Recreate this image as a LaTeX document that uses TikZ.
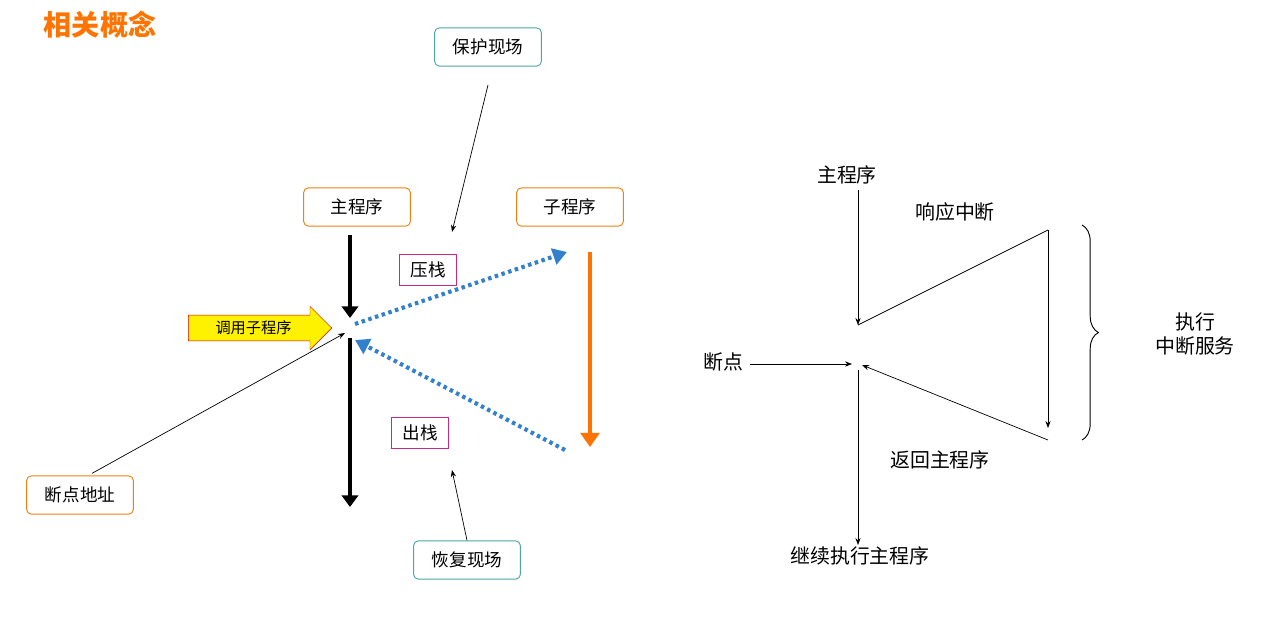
\documentclass[tikz,border=0pt]{standalone}
\usepackage{fontspec}
\setmainfont{Noto Sans CJK SC}
\usetikzlibrary{arrows.meta,shapes.arrows,decorations.pathreplacing}
\begin{document}
\begin{tikzpicture}[x=0.03cm,y=-0.03cm,
 box/.style={draw=#1,rounded corners=4pt,minimum width=3.2cm,minimum height=1.15cm,font=\fontsize{15}{17}\selectfont,fill=white,line width=0.8pt},
 sbox/.style={draw=magenta!80!black,minimum width=1.7cm,minimum height=0.95cm,font=\fontsize{15}{17}\selectfont,line width=0.8pt},
 thick arrow/.style={line width=4pt,-{Triangle[length=10pt,width=14pt]}},
 dots/.style={draw=blue!50!cyan!60!gray,line width=3.5pt,dash pattern=on 3pt off 3pt,-{Triangle[length=12pt,width=14pt]}},
 thin/.style={-{Stealth[length=6pt]},line width=0.6pt},
 rt/.style={font=\fontsize{17}{20}\selectfont}]
\useasboundingbox (0,0) rectangle (1264,616);
\node[text=orange!90!red,font=\fontsize{24}{26}\selectfont\bfseries] (title) at (100,25) {相关概念};
\node[box=teal!70] (bh) at (488,47) {保护现场};
\node[box=orange!70!brown] (zc) at (357,207) {主程序};
\node[box=orange!70!brown] (zic) at (570,207) {子程序};
\node[sbox] (yz) at (428,270) {压栈};
\node[sbox] (cz) at (420,433) {出栈};
\node[box=orange!70!brown] (dd) at (80,495) {断点地址};
\node[box=teal!70] (hf) at (467,560) {恢复现场};
\coordinate (a1) at (350,235); \coordinate (a2) at (350,318);
\coordinate (b1) at (350,338); \coordinate (b2) at (350,507);
\draw[thick arrow] (a1) -- (a2);
\draw[thick arrow] (b1) -- (b2);
\coordinate (r1) at (590,252); \coordinate (r2) at (590,447);
\draw[thick arrow,draw=orange!90!red,-{Triangle[length=12pt,width=16pt]}] (r1) -- (r2);
\coordinate (p1) at (355,324); \coordinate (p2) at (567,252);
\coordinate (q1) at (565,450); \coordinate (q2) at (355,340);
\draw[dots] (p1) -- (p2);
\draw[dots] (q1) -- (q2);
\node[single arrow,draw=red!80!black,fill=yellow,minimum height=4.3cm,minimum width=1.3cm,single arrow head extend=0.2cm,inner sep=2pt,font=\fontsize{13}{15}\selectfont,anchor=tip] (call) at (332,328) {调用子程序\hspace{0.6cm}};
\draw[thin] (488,85) -- (452,232);
\draw[thin] (dd.north) ++(12,-2) -- (345,333);
\draw[thin] (hf.north) -- (452,470);
% right
\node[rt] (mp) at (847,175) {主程序};
\node[rt] (xy) at (955,212) {响应中断};
\node[rt] (bp) at (723,362) {断点};
\node[rt] (fh) at (940,460) {返回主程序};
\node[rt] (jx) at (860,556) {继续执行主程序};
\node[rt,align=center] (zx) at (1195,334) {执行\\中断服务};
\coordinate (m1) at (858,190); \coordinate (m2) at (858,325);
\coordinate (t1) at (1048,230); \coordinate (t2) at (1048,428);
\coordinate (u1) at (1048,440); \coordinate (u2) at (862,365);
\coordinate (v1) at (858,370); \coordinate (v2) at (858,545);
\draw[thin] (m1) -- (m2);
\draw[line width=0.6pt] (m2) -- (t1);
\draw[thin] (t1) -- (t2);
\draw[thin] (u1) -- (u2);
\draw[thin] (bp.east) ++(3,2) -- (852,364);
\draw[thin] (v1) -- (v2);
\draw[decorate,decoration={brace,amplitude=14pt},line width=0.8pt] (1082,225) -- (1082,440);
\end{tikzpicture}
\end{document}
